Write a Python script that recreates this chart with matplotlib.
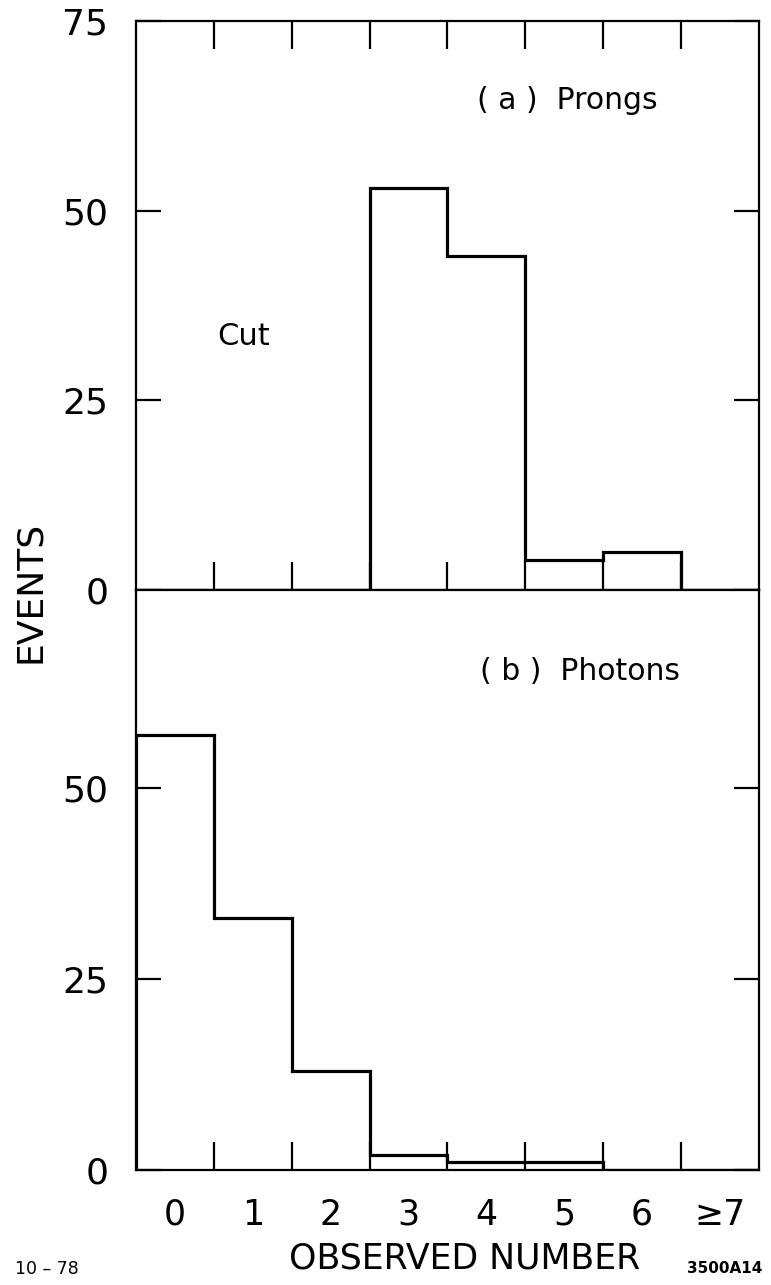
import matplotlib
matplotlib.use("Agg")
import matplotlib.pyplot as plt
import numpy as np

# observed multiplicity bins, last bin is ">= 7"
bin_labels = ["0", "1", "2", "3", "4", "5", "6", "\u22657"]
bin_edges = np.arange(-0.5, 8.0, 1.0)

prongs = [0, 0, 0, 53, 44, 4, 5, 0]
photons = [57, 33, 13, 2, 1, 1, 0, 0]

plt.rcParams["font.family"] = ["DejaVu Sans"]

fig = plt.figure(figsize=(7.71, 12.85), dpi=100)
ax_top = fig.add_axes([0.1764, 0.5409, 0.808, 0.4428])
ax_bot = fig.add_axes([0.1764, 0.0895, 0.808, 0.4514])


def style_axis(ax, ymax, yticks, show_xlabels):
    ax.set_xlim(-0.5, 7.5)
    ax.set_ylim(0, ymax)
    for s in ax.spines.values():
        s.set_linewidth(1.6)
    ax.set_xticks(bin_edges[1:-1])
    ax.set_xticks(np.arange(8), minor=True)
    ax.tick_params(axis="x", which="major", direction="in", length=20,
                   width=1.6, top=ax is ax_top, bottom=True, labelbottom=False)
    if show_xlabels:
        ax.set_xticklabels(bin_labels, minor=True)
        ax.tick_params(axis="x", which="minor", length=0, pad=20,
                       labelsize=25, labelbottom=True)
    else:
        ax.tick_params(axis="x", which="minor", length=0, labelbottom=False)
    ax.set_yticks(yticks)
    ax.tick_params(axis="y", direction="in", length=18, width=1.6,
                   left=True, right=True, labelsize=26, pad=20)


ax_top.stairs(prongs, bin_edges, baseline=0, color="black", linewidth=2.3)
ax_bot.stairs(photons, bin_edges, baseline=0, color="black", linewidth=2.3)

style_axis(ax_top, 75, [0, 25, 50, 75], False)
style_axis(ax_bot, 76, [0, 25, 50], True)

ax_top.text(0.692, 0.861, "( a )  Prongs", transform=ax_top.transAxes,
            ha="center", va="center", fontsize=21.5)
ax_top.text(0.172, 0.445, "Cut", transform=ax_top.transAxes,
            ha="center", va="center", fontsize=22)
ax_bot.text(0.713, 0.859, "( b )  Photons", transform=ax_bot.transAxes,
            ha="center", va="center", fontsize=21.5)

fig.text(0.039, 0.539, "EVENTS", rotation=90, ha="center", va="center",
         fontsize=26)
fig.text(0.602, 0.021, "OBSERVED NUMBER", ha="center", va="center",
         fontsize=25)
fig.text(0.019, 0.0125, "10 \u2013 78", ha="left", va="center", fontsize=12.5)
fig.text(0.94, 0.0125, "3500A14", ha="center", va="center", fontsize=11,
         fontweight="bold")

fig.savefig("out.png", dpi=100)
plt.close(fig)
